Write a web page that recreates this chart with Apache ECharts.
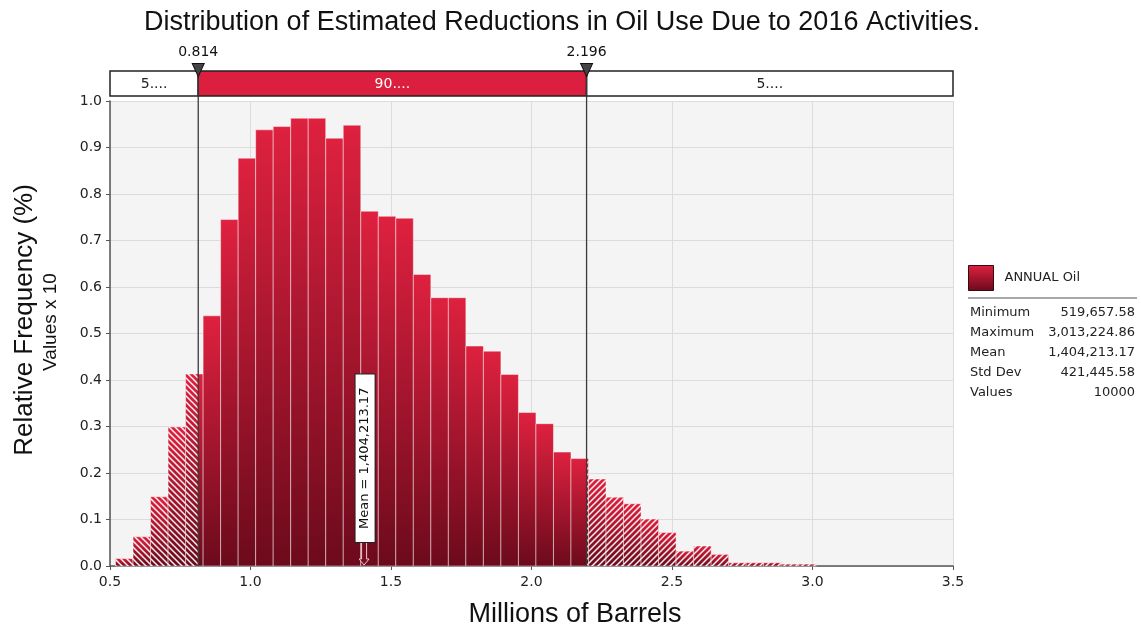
<!DOCTYPE html>
<html>
<head>
<meta charset="utf-8">
<script src="https://cdn.jsdelivr.net/npm/echarts@6/dist/echarts.min.js"></script>
<style>html,body{margin:0;padding:0;background:#fff;}#c{width:1141px;height:632px;}</style>
</head>
<body>
<div id="c"></div>
<script>
// ---- data ----
const titleText = 'Distribution of Estimated Reductions in Oil Use Due to 2016 Activities.';
const seriesName = 'ANNUAL Oil';
const freq = [0.016,0.063,0.149,0.299,0.413,0.538,0.745,0.877,0.938,0.945,
              0.963,0.963,0.920,0.948,0.763,0.752,0.748,0.627,0.577,0.577,
              0.473,0.462,0.412,0.330,0.306,0.245,0.231,0.187,0.148,0.134,
              0.101,0.072,0.032,0.043,0.025,0.007,0.007,0.007,0.004,0.004];
const dataMin = 0.51965758;   // millions
const dataMax = 3.01322486;   // millions
const meanValue = 1.40421317; // millions
const pLo = 0.814;
const pHi = 2.196;
const bandLabels = ['5....', '90....', '5....'];
const statNames = ['Minimum', 'Maximum', 'Mean', 'Std Dev', 'Values'];
const statValues = ['519,657.58', '3,013,224.86', '1,404,213.17', '421,445.58', '10000'];
const meanLabel = 'Mean = 1,404,213.17';
const xMin = 0.5, xMax = 3.5, xStep = 0.5;
const yMin = 0, yMax = 1.0, yStep = 0.1;
const xName = 'Millions of Barrels';
const yName1 = 'Relative Frequency (%)';
const yName2 = 'Values x 10';

// ---- derived ----
const binW = (dataMax - dataMin) / freq.length;
const bins = freq.map((v, i) => [dataMin + i * binW, dataMin + (i + 1) * binW, v]);
const bandSegs = [[xMin, pLo, 0], [pLo, pHi, 1], [pHi, xMax, 0]].map((s, i) => [s[0], s[1], s[2], bandLabels[i]]);

function makeHatch(dir) {
  const n = 6;
  const c = document.createElement('canvas'); c.width = n; c.height = n;
  const g = c.getContext('2d');
  g.strokeStyle = 'rgba(255,255,255,0.92)'; g.lineWidth = 1.5;
  g.beginPath();
  if (dir > 0) { // '/'
    g.moveTo(-1, n + 1); g.lineTo(n + 1, -1);
    g.moveTo(-1, 1); g.lineTo(1, -1);
    g.moveTo(n - 1, n + 1); g.lineTo(n + 1, n - 1);
  } else { // '\'
    g.moveTo(-1, -1); g.lineTo(n + 1, n + 1);
    g.moveTo(-1, n - 1); g.lineTo(1, n + 1);
    g.moveTo(n - 1, -1); g.lineTo(n + 1, 1);
  }
  g.stroke();
  return c;
}
const hatchL = { image: makeHatch(-1), repeat: 'repeat' };
const hatchR = { image: makeHatch(1), repeat: 'repeat' };

const barGrad = () => new echarts.graphic.LinearGradient(0, 0, 0, 1, [
  { offset: 0, color: '#de213f' },
  { offset: 1, color: '#6c0a1c' }
]);

const chart = echarts.init(document.getElementById('c'), null, { renderer: 'canvas' });
const fontV = 'DejaVu Sans';
const fontA = 'Liberation Sans';

const option = {
  animation: false,
  backgroundColor: '#ffffff',
  title: {
    text: titleText,
    left: 557, top: 4, textAlign: 'center',
    textStyle: { fontFamily: fontA, fontSize: 27, fontWeight: 'normal', color: '#111' }
  },
  legend: {
    left: 968, top: 265, padding: 0,
    itemWidth: 25, itemHeight: 25,
    data: [{ name: seriesName, icon: 'rect',
      itemStyle: { color: barGrad(), borderColor: '#3a0610', borderWidth: 1 } }],
    textStyle: { fontFamily: fontV, fontSize: 13, color: '#222', padding: [0, 0, 0, 6] }
  },
  grid: [
    { left: 110, right: 188, top: 101, bottom: 66, show: true, backgroundColor: '#f4f4f4', borderWidth: 0 },
    { left: 110, right: 188, top: 71, height: 25, show: false }
  ],
  xAxis: [
    { type: 'value', gridIndex: 0, min: xMin, max: xMax, interval: xStep,
      axisLine: { show: true, lineStyle: { color: '#555', width: 1.5 } },
      axisTick: { show: true, length: 4, lineStyle: { color: '#555' } },
      axisLabel: { fontFamily: fontV, fontSize: 14, color: '#222', margin: 9, formatter: v => v.toFixed(1) },
      splitLine: { show: true, lineStyle: { color: '#dcdcdc', width: 1 } } },
    { type: 'value', gridIndex: 1, min: xMin, max: xMax, show: false }
  ],
  yAxis: [
    { type: 'value', gridIndex: 0, min: yMin, max: yMax, interval: yStep,
      axisLine: { show: true, lineStyle: { color: '#555', width: 1.5 } },
      axisTick: { show: true, length: 4, lineStyle: { color: '#555' } },
      axisLabel: { fontFamily: fontV, fontSize: 14, color: '#222', margin: 8, formatter: v => v.toFixed(1) },
      splitLine: { show: true, lineStyle: { color: '#dcdcdc', width: 1 } } },
    { type: 'value', gridIndex: 1, min: 0, max: 1, show: false }
  ],
  series: [
    {
      name: seriesName, type: 'custom', xAxisIndex: 0, yAxisIndex: 0, z: 2,
      encode: { x: [0, 1], y: 2 },
      data: bins,
      renderItem: function (params, api) {
        const s = api.value(0), e = api.value(1), v = api.value(2);
        const tl = api.coord([s, v]);
        const br = api.coord([e, 0]);
        const h = br[1] - tl[1];
        const children = [{
          type: 'rect',
          shape: { x: tl[0], y: tl[1], width: br[0] - tl[0], height: h },
          style: { fill: barGrad(), stroke: 'rgba(255,255,255,0.45)', lineWidth: 1 }
        }];
        if (s < pLo) {
          const xr = api.coord([Math.min(e, pLo), 0])[0];
          children.push({ type: 'rect', shape: { x: tl[0], y: tl[1], width: xr - tl[0], height: h },
            style: { fill: hatchL } });
        }
        if (e > pHi) {
          const xl = api.coord([Math.max(s, pHi), 0])[0];
          children.push({ type: 'rect', shape: { x: xl, y: tl[1], width: br[0] - xl, height: h },
            style: { fill: hatchR } });
        }
        return { type: 'group', children: children };
      }
    },
    {
      name: 'pct', type: 'custom', xAxisIndex: 0, yAxisIndex: 0, z: 5,
      data: [[pLo], [pHi]],
      encode: { x: 0 },
      renderItem: function (params, api) {
        const x = api.value(0);
        const a = api.coord([x, yMin]);
        const b = api.coord([x, yMax]);
        return { type: 'line', shape: { x1: a[0], y1: a[1], x2: b[0], y2: b[1] - 30 },
          style: { stroke: '#3a3a3a', lineWidth: 1.3 } };
      }
    },
    {
      name: 'mean', type: 'custom', xAxisIndex: 0, yAxisIndex: 0, z: 6,
      data: [[meanValue]],
      encode: { x: 0 },
      renderItem: function (params, api) {
        const p = api.coord([api.value(0), yMin]);
        const x = p[0], y = p[1];
        const top = y - 24;
        return { type: 'group', children: [
          { type: 'polygon', shape: { points: [
              [x - 2.5, top], [x + 2.5, top], [x + 2.5, y - 7], [x + 5, y - 7],
              [x, y - 1], [x - 5, y - 7], [x - 2.5, y - 7]] },
            style: { fill: '#7a0c1f', stroke: '#f2c6d0', lineWidth: 1 } },
          { type: 'text', x: x + 1, y: top, rotation: Math.PI / 2,
            style: { text: meanLabel, font: '13px "DejaVu Sans"', fill: '#111',
              align: 'left', verticalAlign: 'middle',
              backgroundColor: '#ffffff', borderColor: '#222', borderWidth: 1,
              padding: [3, 13, 3, 13] } }
        ] };
      }
    },
    {
      name: 'band', type: 'custom', xAxisIndex: 1, yAxisIndex: 1, z: 3,
      data: bandSegs,
      encode: { x: [0, 1] },
      renderItem: function (params, api) {
        const s = api.value(0), e = api.value(1), red = api.value(2);
        const lab = bandSegs[params.dataIndex][3];
        const tl = api.coord([s, 1]);
        const br = api.coord([e, 0]);
        return { type: 'group', children: [
          { type: 'rect', shape: { x: tl[0], y: tl[1], width: br[0] - tl[0], height: br[1] - tl[1] },
            style: { fill: red ? '#dc1f3e' : '#ffffff', stroke: '#222', lineWidth: 1.5 } },
          { type: 'text', x: (tl[0] + br[0]) / 2, y: (tl[1] + br[1]) / 2 + 1,
            style: { text: lab, font: '14px "DejaVu Sans"', fill: red ? '#ffffff' : '#222',
              align: 'center', verticalAlign: 'middle' } }
        ] };
      }
    },
    {
      name: 'markers', type: 'scatter', xAxisIndex: 1, yAxisIndex: 1, z: 7,
      data: [[pLo, 1], [pHi, 1]],
      symbol: 'triangle', symbolRotate: 180, symbolSize: [12, 13], symbolOffset: [0, -1],
      itemStyle: { color: '#444', borderColor: '#111', borderWidth: 1, opacity: 1 },
      label: { show: true, position: 'top', distance: 4,
        formatter: p => p.value[0].toFixed(3),
        fontFamily: fontV, fontSize: 14, color: '#111' },
      silent: true
    }
  ],
  graphic: [
    { type: 'text', x: 25, y: 320, rotation: Math.PI / 2,
      style: { text: yName1, font: '26px "Liberation Sans"', fill: '#111', align: 'center', verticalAlign: 'middle' } },
    { type: 'text', x: 51, y: 322, rotation: Math.PI / 2,
      style: { text: yName2, font: '19px "Liberation Sans"', fill: '#111', align: 'center', verticalAlign: 'middle' } },
    { type: 'text', x: 575, y: 615,
      style: { text: xName, font: '27px "Liberation Sans"', fill: '#111', align: 'center', verticalAlign: 'middle' } },
    { type: 'line', shape: { x1: 968, y1: 298, x2: 1137, y2: 298 }, style: { stroke: '#a8a8a8', lineWidth: 2 } }
  ].concat(statNames.map((n, i) => ({
    type: 'text', x: 970, y: 313 + i * 20,
    style: { text: n, font: '13px "DejaVu Sans"', fill: '#222', align: 'left', verticalAlign: 'middle' }
  }))).concat(statValues.map((v, i) => ({
    type: 'text', x: 1135, y: 313 + i * 20,
    style: { text: v, font: '13px "DejaVu Sans"', fill: '#222', align: 'right', verticalAlign: 'middle' }
  })))
};
chart.setOption(option);
</script>
</body>
</html>
